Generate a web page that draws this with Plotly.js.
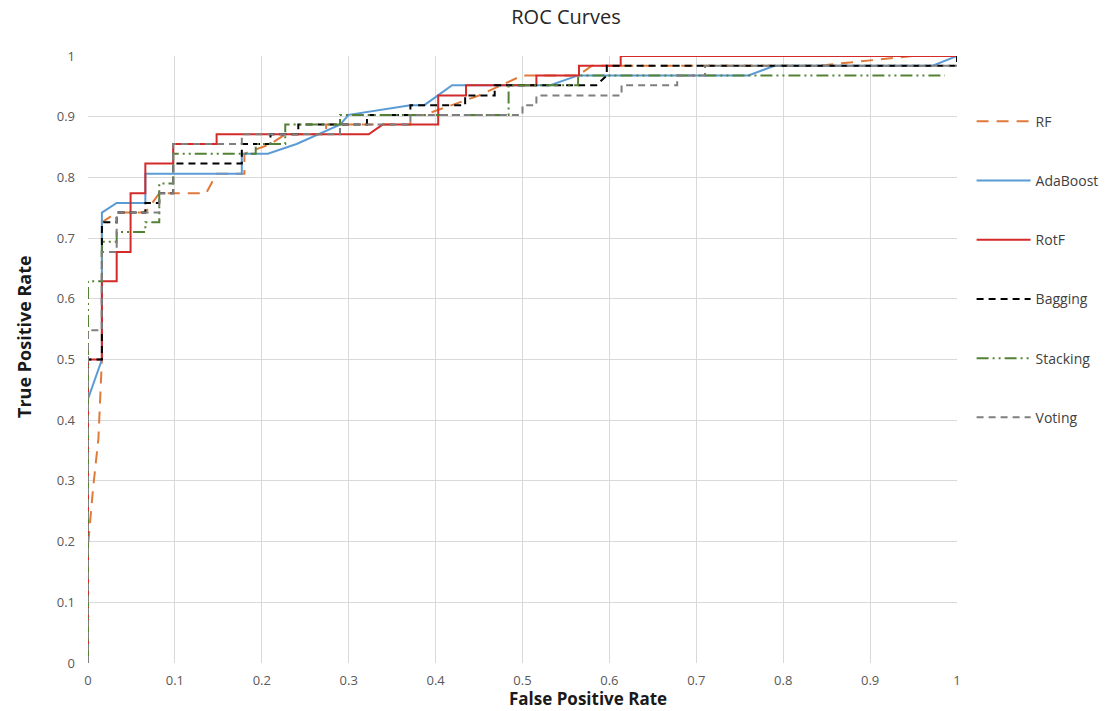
<!DOCTYPE html>
<html>
<head>
<meta charset="utf-8">
<script src="https://cdn.plot.ly/plotly-3.0.1.min.js"></script>
<style>html,body{margin:0;padding:0;background:#fff;}#chart{width:1106px;height:711px;}</style>
</head>
<body>
<div id="chart"></div>
<script>
const seriesNames = ["RF", "AdaBoost", "RotF", "Bagging", "Stacking", "Voting"];

const rfX = [0, 0, 0.006, 0.012, 0.016, 0.016, 0.033, 0.066, 0.082, 0.136, 0.148, 0.18, 0.18, 0.21, 0.227, 0.274, 0.274, 0.371, 0.371, 0.387, 0.45, 0.5, 0.564, 0.58, 0.84, 0.95, 1];
const rfY = [0, 0.194, 0.29, 0.37, 0.5, 0.726, 0.742, 0.742, 0.774, 0.774, 0.806, 0.806, 0.839, 0.855, 0.871, 0.871, 0.887, 0.887, 0.903, 0.903, 0.935, 0.968, 0.968, 0.984, 0.984, 1, 1];

const adaX = [0, 0, 0.016, 0.016, 0.033, 0.066, 0.066, 0.177, 0.177, 0.207, 0.24, 0.29, 0.3, 0.371, 0.387, 0.419, 0.532, 0.564, 0.76, 0.79, 0.972, 1];
const adaY = [0, 0.435, 0.5, 0.742, 0.758, 0.758, 0.806, 0.806, 0.839, 0.839, 0.855, 0.887, 0.903, 0.919, 0.919, 0.952, 0.952, 0.968, 0.968, 0.984, 0.984, 1];

const rotfX = [0, 0, 0.016, 0.016, 0.033, 0.033, 0.049, 0.049, 0.066, 0.066, 0.098, 0.098, 0.148, 0.148, 0.323, 0.339, 0.403, 0.403, 0.435, 0.435, 0.516, 0.516, 0.565, 0.565, 0.613, 0.613, 1];
const rotfY = [0, 0.5, 0.5, 0.629, 0.629, 0.677, 0.677, 0.774, 0.774, 0.823, 0.823, 0.855, 0.855, 0.871, 0.871, 0.887, 0.887, 0.935, 0.935, 0.952, 0.952, 0.968, 0.968, 0.984, 0.984, 1, 1];

const bagX = [0, 0, 0.016, 0.016, 0.033, 0.033, 0.066, 0.066, 0.082, 0.082, 0.098, 0.098, 0.177, 0.177, 0.21, 0.21, 0.242, 0.242, 0.321, 0.321, 0.371, 0.371, 0.434, 0.434, 0.468, 0.468, 0.585, 0.597, 0.597, 1, 1];
const bagY = [0, 0.5, 0.5, 0.726, 0.726, 0.742, 0.742, 0.758, 0.758, 0.774, 0.774, 0.823, 0.823, 0.855, 0.855, 0.871, 0.871, 0.887, 0.887, 0.903, 0.903, 0.919, 0.919, 0.935, 0.935, 0.952, 0.952, 0.968, 0.984, 0.984, 1];

const stackX = [0, 0, 0.016, 0.016, 0.033, 0.033, 0.066, 0.066, 0.082, 0.082, 0.098, 0.098, 0.193, 0.193, 0.227, 0.227, 0.29, 0.29, 0.484, 0.484, 0.564, 0.564, 0.986];
const stackY = [0, 0.629, 0.629, 0.694, 0.694, 0.71, 0.71, 0.726, 0.726, 0.79, 0.79, 0.839, 0.839, 0.855, 0.855, 0.887, 0.887, 0.903, 0.903, 0.952, 0.952, 0.968, 0.968];

const voteX = [0, 0, 0.016, 0.016, 0.033, 0.033, 0.082, 0.082, 0.098, 0.098, 0.177, 0.177, 0.29, 0.29, 0.371, 0.371, 0.5, 0.5, 0.516, 0.516, 0.614, 0.614, 0.678, 0.678, 0.71, 0.71, 1];
const voteY = [0, 0.548, 0.548, 0.677, 0.677, 0.742, 0.742, 0.774, 0.774, 0.855, 0.855, 0.871, 0.871, 0.887, 0.887, 0.903, 0.903, 0.919, 0.919, 0.935, 0.935, 0.952, 0.952, 0.968, 0.968, 0.984, 0.984];

const tickVals = [0, 0.1, 0.2, 0.3, 0.4, 0.5, 0.6, 0.7, 0.8, 0.9, 1];
const tickText = ["0", "0.1", "0.2", "0.3", "0.4", "0.5", "0.6", "0.7", "0.8", "0.9", "1"];
const chartTitle = "ROC Curves";
const xTitle = "False Positive Rate";
const yTitle = "True Positive Rate";

const xs = [rfX, adaX, rotfX, bagX, stackX, voteX];
const ys = [rfY, adaY, rotfY, bagY, stackY, voteY];
const colors = ["#e07a3a", "#5b9bd5", "#d42a2a", "#000000", "#548235", "#7f7f7f"];
const dashes = ["12px,8px", "solid", "solid", "7px,5px", "12px,4px,2px,4px,2px,4px", "7px,5px"];

const traces = seriesNames.map((n, i) => ({
  type: "scatter", mode: "lines", name: n, x: xs[i], y: ys[i],
  legendgroup: n,
  line: {color: colors[i], width: 2, dash: dashes[i]}
}));

const font = "'Open Sans', 'Noto Sans', sans-serif";
const layout = {
  width: 1106, height: 711,
  margin: {l: 88, r: 149, t: 56, b: 48, autoexpand: false},
  paper_bgcolor: "#fff", plot_bgcolor: "#fff",
  title: {text: chartTitle, font: {family: font, size: 20, color: "#262626"}, x: 566 / 1106, xanchor: "center", y: 1 - 10 / 711, yanchor: "top"},
  xaxis: {range: [0, 1], tickvals: tickVals, ticktext: tickText, showgrid: true, gridcolor: "#d9d9d9", zeroline: false, showline: false,
    tickfont: {family: font, size: 13, color: "#595959"}, ticks: "", ticklabelstandoff: 8},
  yaxis: {range: [0, 1], tickvals: tickVals, ticktext: tickText, showgrid: true, gridcolor: "#d9d9d9", zeroline: false, showline: false,
    tickfont: {family: font, size: 13, color: "#595959"}, ticks: "", ticklabelstandoff: 12},
  annotations: [
    {text: "<b>" + xTitle + "</b>", xref: "paper", yref: "paper", x: (588 - 88) / 869, y: (663 - 711) / 607,
     xanchor: "center", yanchor: "bottom", showarrow: false, borderpad: 0, font: {family: font, size: 17, color: "#1a1a1a"}},
    {text: "<b>" + yTitle + "</b>", xref: "paper", yref: "paper", x: (24 - 88) / 869, y: (663 - 337) / 607,
     xanchor: "center", yanchor: "middle", textangle: -90, showarrow: false, font: {family: font, size: 18, color: "#1a1a1a"}}
  ],
  legend: {x: (971.6 - 88) / 869, xanchor: "left", y: 0.918, yanchor: "top", tracegroupgap: 38, itemwidth: 54,
    font: {family: font, size: 14, color: "#404040"}, bgcolor: "rgba(0,0,0,0)"},
  showlegend: true
};

Plotly.newPlot("chart", traces, layout, {displayModeBar: false, staticPlot: true});
</script>
</body>
</html>
